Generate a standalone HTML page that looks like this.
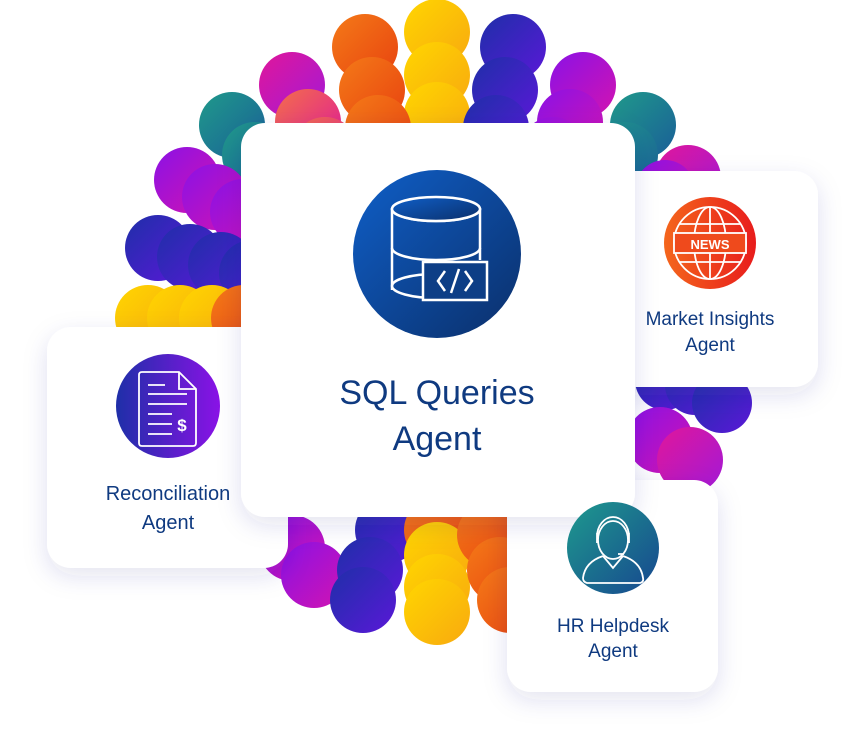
<!DOCTYPE html>
<html><head><meta charset="utf-8"><style>
html,body{margin:0;padding:0;background:#fff;width:864px;height:745px;overflow:hidden}
svg{display:block}
text{font-family:"Liberation Sans",sans-serif;fill:#0f3a80}
</style></head><body>
<svg width="864" height="745" viewBox="0 0 864 745" xmlns="http://www.w3.org/2000/svg">
<defs>
<linearGradient id="gy" x1="0" y1="0" x2="1" y2="1"><stop offset="0" stop-color="#ffd600"/><stop offset="1" stop-color="#f8a90f"/></linearGradient>
<linearGradient id="go" x1="0" y1="0" x2="1" y2="1"><stop offset="0" stop-color="#f47a18"/><stop offset="1" stop-color="#e8420f"/></linearGradient>
<linearGradient id="gp" x1="0" y1="0" x2="1" y2="1"><stop offset="0" stop-color="#e0179a"/><stop offset="1" stop-color="#a218d8"/></linearGradient>
<linearGradient id="gv" x1="0" y1="0" x2="1" y2="1"><stop offset="0" stop-color="#8a12e6"/><stop offset="1" stop-color="#d313b0"/></linearGradient>
<linearGradient id="gb" x1="0" y1="0" x2="1" y2="1"><stop offset="0" stop-color="#1e2fa8"/><stop offset="1" stop-color="#5a18d8"/></linearGradient>
<linearGradient id="gt" x1="0" y1="0" x2="1" y2="1"><stop offset="0" stop-color="#1f9a8a"/><stop offset="1" stop-color="#1a5e98"/></linearGradient>
<linearGradient id="gs" x1="0" y1="0" x2="1" y2="1"><stop offset="0" stop-color="#f36f4a"/><stop offset="1" stop-color="#e0179a"/></linearGradient>
<linearGradient id="iMain" x1="0" y1="0" x2="1" y2="1"><stop offset="0" stop-color="#0f5fc8"/><stop offset="1" stop-color="#0b2f6a"/></linearGradient>
<linearGradient id="iNews" x1="0" y1="0" x2="1" y2="0"><stop offset="0" stop-color="#f4661c"/><stop offset="1" stop-color="#e81c1c"/></linearGradient>
<linearGradient id="iRec" x1="0" y1="0" x2="1" y2="0"><stop offset="0" stop-color="#1e2fa8"/><stop offset="1" stop-color="#8a12e6"/></linearGradient>
<linearGradient id="iHR" x1="0" y1="0" x2="1" y2="1"><stop offset="0" stop-color="#1e9a8e"/><stop offset="1" stop-color="#17468f"/></linearGradient>
<filter id="sh" x="-30%" y="-30%" width="160%" height="160%"><feDropShadow dx="0" dy="8" stdDeviation="12" flood-color="#2a3a90" flood-opacity="0.13"/></filter>
</defs>

<!-- circles top -->
<g>
<circle cx="437" cy="32" r="33" fill="url(#gy)"/>
<circle cx="365" cy="47" r="33" fill="url(#go)"/>
<circle cx="513" cy="47" r="33" fill="url(#gb)"/>
<circle cx="292" cy="85" r="33" fill="url(#gp)"/>
<circle cx="583" cy="85" r="33" fill="url(#gv)"/>
<circle cx="232" cy="125" r="33" fill="url(#gt)"/>
<circle cx="643" cy="125" r="33" fill="url(#gt)"/>
<circle cx="437" cy="75" r="33" fill="url(#gy)"/>
<circle cx="372" cy="90" r="33" fill="url(#go)"/>
<circle cx="505" cy="90" r="33" fill="url(#gb)"/>
<circle cx="308" cy="122" r="33" fill="url(#gs)"/>
<circle cx="570" cy="122" r="33" fill="url(#gv)"/>
<circle cx="255" cy="155" r="33" fill="url(#gt)"/>
<circle cx="625" cy="155" r="33" fill="url(#gt)"/>
<circle cx="437" cy="115" r="33" fill="url(#gy)"/>
<circle cx="378" cy="128" r="33" fill="url(#go)"/>
<circle cx="496" cy="128" r="33" fill="url(#gb)"/>
<circle cx="325" cy="150" r="33" fill="url(#gs)"/>
<circle cx="553" cy="150" r="33" fill="url(#gv)"/>
<circle cx="688" cy="178" r="33" fill="url(#gp)"/>
<circle cx="665" cy="190" r="30" fill="url(#gv)"/>
<!-- left -->
<circle cx="187" cy="180" r="33" fill="url(#gv)"/>
<circle cx="215" cy="197" r="33" fill="url(#gv)"/>
<circle cx="243" cy="212" r="33" fill="url(#gv)"/>
<circle cx="158" cy="248" r="33" fill="url(#gb)"/>
<circle cx="190" cy="257" r="33" fill="url(#gb)"/>
<circle cx="221" cy="265" r="33" fill="url(#gb)"/>
<circle cx="252" cy="273" r="33" fill="url(#gb)"/>
<circle cx="148" cy="318" r="33" fill="url(#gy)"/>
<circle cx="180" cy="318" r="33" fill="url(#gy)"/>
<circle cx="212" cy="318" r="33" fill="url(#gy)"/>
<circle cx="244" cy="318" r="33" fill="url(#go)"/>
<!-- right lower -->
<circle cx="665" cy="380" r="30" fill="url(#gb)"/>
<circle cx="695" cy="385" r="30" fill="url(#gb)"/>
<circle cx="722" cy="403" r="30" fill="url(#gb)"/>
<circle cx="660" cy="440" r="33" fill="url(#gv)"/>
<circle cx="690" cy="460" r="33" fill="url(#gp)"/>
<!-- bottom -->
<circle cx="292" cy="548" r="33" fill="url(#gv)"/>
<circle cx="314" cy="575" r="33" fill="url(#gv)"/>
<circle cx="388" cy="530" r="33" fill="url(#gb)"/>
<circle cx="370" cy="570" r="33" fill="url(#gb)"/>
<circle cx="363" cy="600" r="33" fill="url(#gb)"/>
<circle cx="437" cy="530" r="33" fill="url(#go)"/>
<circle cx="437" cy="555" r="33" fill="url(#gy)"/>
<circle cx="437" cy="587" r="33" fill="url(#gy)"/>
<circle cx="437" cy="612" r="33" fill="url(#gy)"/>
<circle cx="490" cy="535" r="33" fill="url(#go)"/>
<circle cx="500" cy="570" r="33" fill="url(#go)"/>
<circle cx="510" cy="600" r="33" fill="url(#go)"/>
</g>

<!-- side cards -->
<rect x="47" y="327" width="241" height="241" rx="24" fill="#fff" filter="url(#sh)"/>
<rect x="600" y="171" width="218" height="216" rx="24" fill="#fff" filter="url(#sh)"/>
<rect x="507" y="480" width="211" height="212" rx="24" fill="#fff" filter="url(#sh)"/>
<!-- main card -->
<rect x="241" y="123" width="394" height="394" rx="24" fill="#fff" filter="url(#sh)"/>

<!-- main icon -->
<circle cx="437" cy="254" r="84" fill="url(#iMain)"/>
<g fill="none" stroke="#fff" stroke-width="2.5">
<ellipse cx="436" cy="286" rx="44" ry="12"/>
<path d="M392 208 V248 M480 208 V260 M392 248 V290"/>
<path d="M392 209 a44 12 0 0 0 88 0"/>
<path d="M392 248 a44 12 0 0 0 88 0"/>
<ellipse cx="436" cy="209" rx="44" ry="12" fill="url(#iMain)"/>
<rect x="423" y="262" width="64" height="38" fill="#0d3e86"/>
<path d="M445 271 l-7 10 l7 10 M465 271 l7 10 l-7 10 M459 269 l-8 24"/>
</g>
<text x="437" y="404" font-size="34" text-anchor="middle">SQL Queries</text>
<text x="437" y="450" font-size="34" text-anchor="middle">Agent</text>

<!-- news icon -->
<circle cx="710" cy="243" r="46" fill="url(#iNews)"/>
<g fill="none" stroke="#fff" stroke-width="1.8">
<circle cx="710" cy="243" r="36"/>
<ellipse cx="710" cy="243" rx="16" ry="36"/>
<path d="M710 207 V279 M680 224 H740 M680 262 H740"/>
<rect x="674" y="233" width="72" height="20" fill="#ef4a1c"/>
</g>
<text x="710" y="249" font-size="13" font-weight="bold" text-anchor="middle" style="fill:#fff">NEWS</text>
<text x="710" y="325" font-size="19" text-anchor="middle">Market Insights</text>
<text x="710" y="351" font-size="19" text-anchor="middle">Agent</text>

<!-- recon icon -->
<circle cx="168" cy="406" r="52" fill="url(#iRec)"/>
<g fill="none" stroke="#fff" stroke-width="1.8">
<path d="M142 372 H179 L196 389 V443 Q196 446 193 446 H142 Q139 446 139 443 V375 Q139 372 142 372 Z"/>
<path d="M179 372 V389 H196"/>
<path d="M148 385 H165 M148 394 H187 M148 404 H187 M148 414 H172 M148 424 H172 M148 434 H172"/>
</g>
<text x="182" y="431" font-size="17" font-weight="bold" text-anchor="middle" style="fill:#fff">$</text>
<text x="168" y="500" font-size="20" text-anchor="middle">Reconciliation</text>
<text x="168" y="529" font-size="20" text-anchor="middle">Agent</text>

<!-- HR icon -->
<circle cx="613" cy="548" r="46" fill="url(#iHR)"/>
<g fill="none" stroke="#fff" stroke-width="1.8">
<ellipse cx="613" cy="540" rx="15" ry="19"/>
<path d="M597 537 a16 20 0 0 1 32 0 M597 533 v10 M629 533 v10 M624 554 h-6"/>
<path d="M603 556 l10 12 l10 -12 M603 556 Q585 562 583 578 Q583 582 587 583 H640 Q644 582 643 578 Q641 562 623 556"/>
</g>
<text x="613" y="632" font-size="19" text-anchor="middle">HR Helpdesk</text>
<text x="613" y="657" font-size="19" text-anchor="middle">Agent</text>
</svg>
</body></html>
